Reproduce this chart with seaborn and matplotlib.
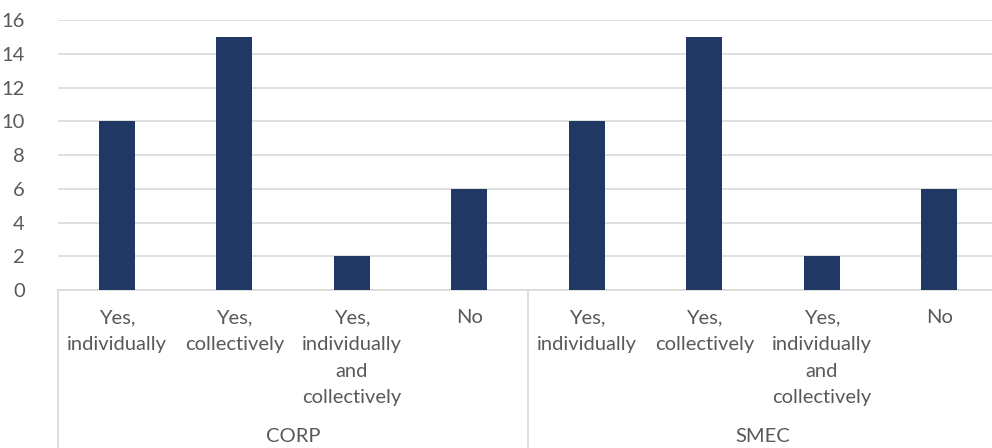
import matplotlib
matplotlib.use("Agg")
import matplotlib.pyplot as plt
import matplotlib.transforms as mtransforms
import seaborn as sns
import pandas as pd

# Survey responses per organisation group
groups = ["CORP", "SMEC"]
answers = ["Yes,\nindividually", "Yes,\ncollectively",
           "Yes,\nindividually\nand\ncollectively", "No"]
corp_counts = [10, 15, 2, 6]
smec_counts = [10, 15, 2, 6]

rows = []
for g, counts in zip(groups, [corp_counts, smec_counts]):
    for a, c in zip(answers, counts):
        rows.append({"key": f"{g}|{a}", "group": g, "answer": a, "count": c})
df = pd.DataFrame(rows)

sns.set_theme(style="white")
plt.rcParams["font.family"] = ["Lato", "DejaVu Sans"]

text_color = "#595959"
grid_color = "#D9D9D9"
bar_color = "#203864"
fs = 14.5

W, H = 992, 448
fig = plt.figure(figsize=(W / 100, H / 100), dpi=100)
ax = fig.add_axes([58 / W, (H - 290) / H, 940 / W, 270 / H])

sns.barplot(data=df, x="key", y="count", order=list(df["key"]),
            color=bar_color, width=0.31, saturation=1, linewidth=0,
            ax=ax, zorder=3)

ax.set_ylim(0, 16)
ax.set_xlim(-0.5, len(df) - 0.5)
ax.set_yticks(range(0, 17, 2))
ax.yaxis.grid(True, color=grid_color, linewidth=1.2, zorder=0)
ax.set_xticks([])
ax.set_xlabel("")
ax.set_ylabel("")
ax.tick_params(axis="y", length=0, pad=24, labelsize=fs, labelcolor=text_color)
for side in ["top", "right", "left"]:
    ax.spines[side].set_visible(False)
ax.spines["bottom"].set_color(grid_color)
ax.spines["bottom"].set_linewidth(1.2)

# Multi-level category axis below the plot
trans = mtransforms.blended_transform_factory(ax.transData, ax.transAxes)
px = 1 / 270  # one pixel in axes-fraction units (vertical)
for i, ans in enumerate(df["answer"]):
    ax.text(i, -19 * px, ans, transform=trans, ha="center", va="top",
            fontsize=fs, color=text_color, linespacing=1.7)

n = len(answers)
for k, g in enumerate(groups):
    center = k * n + (n - 1) / 2
    ax.text(center, -146 * px, g, transform=trans, ha="center", va="center",
            fontsize=fs, color=text_color)
for k in range(len(groups) + 1):
    xb = k * n - 0.5
    ax.plot([xb, xb], [0, -160 * px], transform=trans, color=grid_color,
            linewidth=1.2, clip_on=False)

fig.savefig("out.png", dpi=100, facecolor="white")
